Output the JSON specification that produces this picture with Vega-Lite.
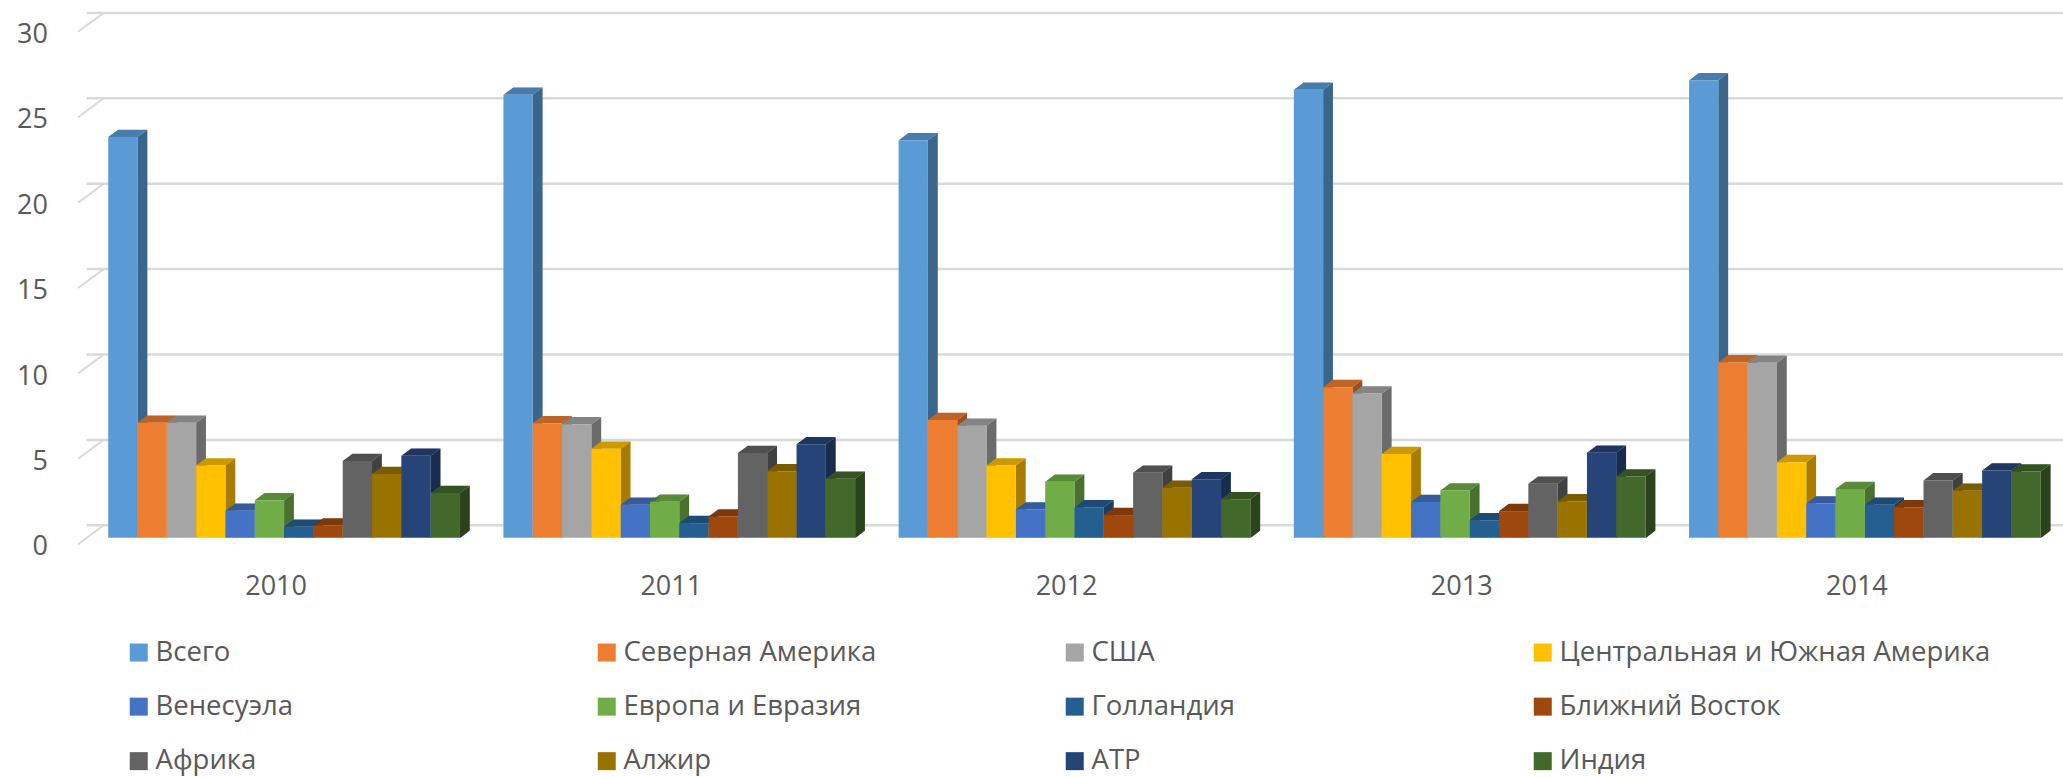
{"$schema":"https://vega.github.io/schema/vega-lite/v6.json","width":1976,"height":512.4,"autosize":{"type":"none"},"padding":{"left":86.5,"top":25.4,"right":0.5,"bottom":239.2},"background":"white","config":{"view":{"stroke":null}},
"datasets":{"ticks":[{"v":0,"year":"2010"},{"v":5,"year":"2010"},{"v":10,"year":"2010"},{"v":15,"year":"2010"},{"v":20,"year":"2010"},{"v":25,"year":"2010"},{"v":30,"year":"2010"}],
"rows":[
{"year":"2010","series":"Всего","value":23.46,"base":0},{"year":"2010","series":"Северная Америка","value":6.73,"base":0},{"year":"2010","series":"США","value":6.73,"base":0},{"year":"2010","series":"Центральная и Южная Америка","value":4.23,"base":0},{"year":"2010","series":"Венесуэла","value":1.58,"base":0},{"year":"2010","series":"Европа и Евразия","value":2.2,"base":0},{"year":"2010","series":"Голландия","value":0.64,"base":0},{"year":"2010","series":"Ближний Восток","value":0.72,"base":0},{"year":"2010","series":"Африка","value":4.49,"base":0},{"year":"2010","series":"Алжир","value":3.73,"base":0},{"year":"2010","series":"АТР","value":4.8,"base":0},{"year":"2010","series":"Индия","value":2.62,"base":0},
{"year":"2011","series":"Всего","value":25.94,"base":0},{"year":"2011","series":"Северная Америка","value":6.71,"base":0},{"year":"2011","series":"США","value":6.65,"base":0},{"year":"2011","series":"Центральная и Южная Америка","value":5.21,"base":0},{"year":"2011","series":"Венесуэла","value":1.93,"base":0},{"year":"2011","series":"Европа и Евразия","value":2.11,"base":0},{"year":"2011","series":"Голландия","value":0.86,"base":0},{"year":"2011","series":"Ближний Восток","value":1.25,"base":0},{"year":"2011","series":"Африка","value":4.96,"base":0},{"year":"2011","series":"Алжир","value":3.9,"base":0},{"year":"2011","series":"АТР","value":5.48,"base":0},{"year":"2011","series":"Индия","value":3.45,"base":0},
{"year":"2012","series":"Всего","value":23.27,"base":0},{"year":"2012","series":"Северная Америка","value":6.89,"base":0},{"year":"2012","series":"США","value":6.56,"base":0},{"year":"2012","series":"Центральная и Южная Америка","value":4.23,"base":0},{"year":"2012","series":"Венесуэла","value":1.66,"base":0},{"year":"2012","series":"Европа и Евразия","value":3.28,"base":0},{"year":"2012","series":"Голландия","value":1.78,"base":0},{"year":"2012","series":"Ближний Восток","value":1.33,"base":0},{"year":"2012","series":"Африка","value":3.81,"base":0},{"year":"2012","series":"Алжир","value":2.93,"base":0},{"year":"2012","series":"АТР","value":3.43,"base":0},{"year":"2012","series":"Индия","value":2.26,"base":0},
{"year":"2013","series":"Всего","value":26.23,"base":0},{"year":"2013","series":"Северная Америка","value":8.82,"base":0},{"year":"2013","series":"США","value":8.45,"base":0},{"year":"2013","series":"Центральная и Южная Америка","value":4.9,"base":0},{"year":"2013","series":"Венесуэла","value":2.09,"base":0},{"year":"2013","series":"Европа и Евразия","value":2.77,"base":0},{"year":"2013","series":"Голландия","value":1.03,"base":0},{"year":"2013","series":"Ближний Восток","value":1.56,"base":0},{"year":"2013","series":"Африка","value":3.16,"base":0},{"year":"2013","series":"Алжир","value":2.13,"base":0},{"year":"2013","series":"АТР","value":4.98,"base":0},{"year":"2013","series":"Индия","value":3.59,"base":0},
{"year":"2014","series":"Всего","value":26.78,"base":0},{"year":"2014","series":"Северная Америка","value":10.28,"base":0},{"year":"2014","series":"США","value":10.25,"base":0},{"year":"2014","series":"Центральная и Южная Америка","value":4.43,"base":0},{"year":"2014","series":"Венесуэла","value":2.01,"base":0},{"year":"2014","series":"Европа и Евразия","value":2.85,"base":0},{"year":"2014","series":"Голландия","value":1.93,"base":0},{"year":"2014","series":"Ближний Восток","value":1.78,"base":0},{"year":"2014","series":"Африка","value":3.36,"base":0},{"year":"2014","series":"Алжир","value":2.75,"base":0},{"year":"2014","series":"АТР","value":3.94,"base":0},{"year":"2014","series":"Индия","value":3.88,"base":0}
]},
"layer":[
{"data":{"name":"ticks"},"mark":{"type":"rule","color":"#D9D9D9","strokeWidth":2.5,"xOffset":17.1,"x2Offset":17.1,"yOffset":-12.5,"y2Offset":-12.5},"encoding":{"y":{"field":"v","type":"quantitative","scale":{"domain":[0,30],"nice":false}}}},
{"data":{"name":"ticks"},"mark":{"type":"point","shape":"M-206,6.4L-180.4,-12.5","size":4,"filled":false,"opacity":1,"color":"#D9D9D9","strokeWidth":2},"encoding":{"x":{"field":"year","type":"nominal","scale":{"domain":["2010","2011","2012","2013","2014"],"paddingInner":0.11,"paddingOuter":0.055}},"y":{"field":"v","type":"quantitative"}}},
{"data":{"name":"rows"},"mark":{"type":"point","clip":true,"shape":"M14.65,0L24.45,-7.3L24.45,520L14.65,520Z","size":4,"filled":true,"opacity":1},"encoding":{"x":{"field":"year","type":"nominal"},"xOffset":{"field":"series","type":"nominal","scale":{"domain":["Всего","Северная Америка","США","Центральная и Южная Америка","Венесуэла","Европа и Евразия","Голландия","Ближний Восток","Африка","Алжир","АТР","Индия"]}},"y":{"field":"value","type":"quantitative"},"color":{"field":"series","type":"nominal"}}},
{"data":{"name":"rows"},"mark":{"type":"point","clip":true,"shape":"M14.65,0L24.45,-7.3L24.45,520L14.65,520Z","size":4,"filled":true,"opacity":0.35,"color":"black"},"encoding":{"x":{"field":"year","type":"nominal"},"xOffset":{"field":"series","type":"nominal"},"y":{"field":"value","type":"quantitative"}}},
{"data":{"name":"rows"},"mark":{"type":"point","shape":"M14.65,0.5L25,0.5L25,-7.5Z","size":4,"filled":true,"opacity":1,"color":"white"},"encoding":{"x":{"field":"year","type":"nominal"},"xOffset":{"field":"series","type":"nominal"},"y":{"field":"base","type":"quantitative"}}},
{"data":{"name":"rows"},"mark":{"type":"point","shape":"M-14.65,0L14.65,0L24.45,-7.3L-4.85,-7.3Z","size":4,"filled":true,"opacity":1},"encoding":{"x":{"field":"year","type":"nominal"},"xOffset":{"field":"series","type":"nominal"},"y":{"field":"value","type":"quantitative"},"color":{"field":"series","type":"nominal"}}},
{"data":{"name":"rows"},"mark":{"type":"point","shape":"M-14.65,0L14.65,0L24.45,-7.3L-4.85,-7.3Z","size":4,"filled":true,"opacity":0.2,"color":"black"},"encoding":{"x":{"field":"year","type":"nominal"},"xOffset":{"field":"series","type":"nominal"},"y":{"field":"value","type":"quantitative"}}},
{"data":{"name":"rows"},"mark":{"type":"bar"},"encoding":{"x":{"field":"year","type":"nominal","axis":{"title":null,"domain":false,"ticks":false,"labelAngle":0,"labelAlign":"center","labelBaseline":"top","labelFont":"Open Sans","labelFontSize":27,"labelColor":"#595959","labelOffset":-8,"labelPadding":36}},"xOffset":{"field":"series","type":"nominal"},"y":{"field":"value","type":"quantitative","axis":{"title":null,"domain":false,"ticks":false,"grid":false,"values":[0,5,10,15,20,25,30],"labelFont":"Open Sans","labelFontSize":27,"labelColor":"#595959","labelPadding":39,"labelOffset":9}},"y2":{"datum":0},"color":{"field":"series","type":"nominal","scale":{"domain":["Всего","Северная Америка","США","Центральная и Южная Америка","Венесуэла","Европа и Евразия","Голландия","Ближний Восток","Африка","Алжир","АТР","Индия"],"range":["#5B9BD5","#ED7D31","#A5A5A5","#FFC000","#4472C4","#70AD47","#255E91","#9E480E","#636363","#997300","#264478","#43682B"]},"legend":{"title":null,"orient":"none","direction":"horizontal","legendX":38.5,"legendY":613,"columns":4,"gridAlign":"all","columnPadding":6,"rowPadding":25.5,"symbolType":"square","symbolSize":324,"symbolStrokeWidth":0,"labelFont":"Open Sans","labelFontSize":27.5,"labelColor":"#595959","labelOffset":3,"labelLimit":600,"symbolOpacity":1}}}}
]}
